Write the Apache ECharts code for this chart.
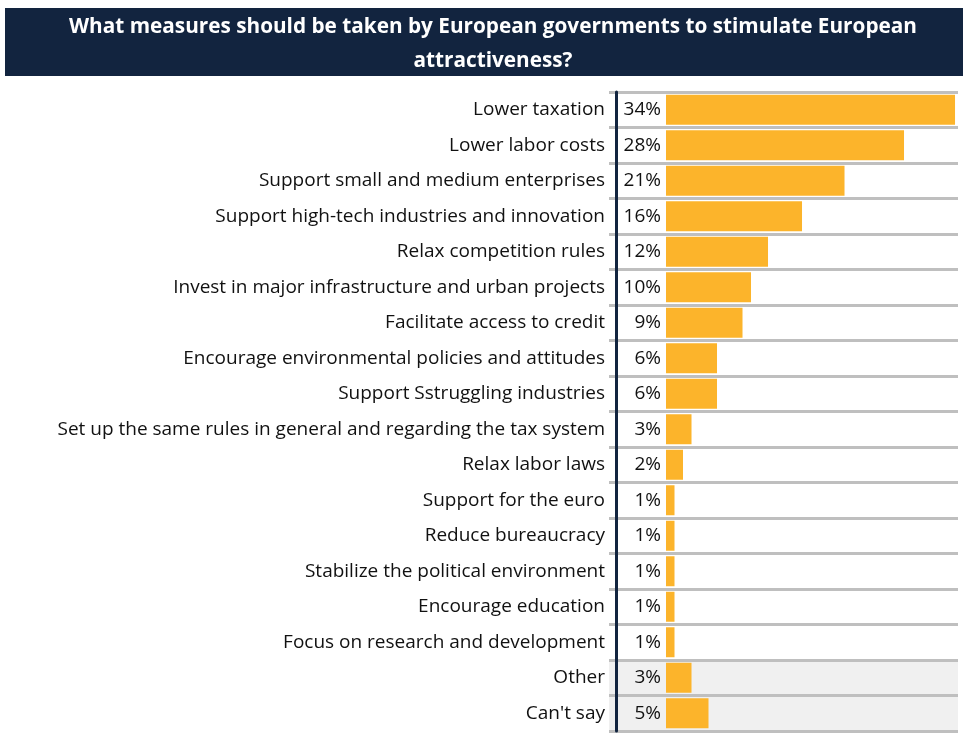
<!DOCTYPE html>
<html>
<head>
<meta charset="utf-8">
<title>European attractiveness measures</title>
<script src="https://cdn.jsdelivr.net/npm/echarts@6/dist/echarts.min.js"></script>
<style>
  html, body { margin: 0; padding: 0; background: #ffffff; }
  #chart { width: 963px; height: 738px; }
</style>
</head>
<body>
<div id="chart"></div>
<script>
// Survey answers, in the order they are listed
const categories = [
  'Lower taxation',
  'Lower labor costs',
  'Support small and medium enterprises',
  'Support high-tech industries and innovation',
  'Relax competition rules',
  'Invest in major infrastructure and urban projects',
  'Facilitate access to credit',
  'Encourage environmental policies and attitudes',
  'Support Sstruggling industries',
  'Set up the same rules in general and regarding the tax system',
  'Relax labor laws',
  'Support for the euro',
  'Reduce bureaucracy',
  'Stabilize the political environment',
  'Encourage education',
  'Focus on research and development',
  'Other',
  "Can't say"
];
// Share of respondents, in percent
const shares = [34, 28, 21, 16, 12, 10, 9, 6, 6, 3, 2, 1, 1, 1, 1, 1, 3, 5];
// Answers that sit on a shaded band
const shadedRows = ['Other', "Can't say"];

const titleText = 'What measures should be taken by European governments to stimulate European\nattractiveness?';

const FONT = '"Open Sans", "DejaVu Sans", sans-serif';
const NAVY = '#12243f';
const BAR = '#fcb42b';

const chart = echarts.init(document.getElementById('chart'), null, { renderer: 'canvas' });

const bandColors = categories.map(c => shadedRows.includes(c) ? '#f0f0f0' : 'rgba(255,255,255,0)');

chart.setOption({
  animation: false,
  backgroundColor: '#ffffff',
  title: {
    text: titleText,
    left: 488,
    top: 5,
    textAlign: 'center',
    textStyle: {
      color: '#ffffff',
      fontFamily: FONT,
      fontWeight: 'bold',
      fontSize: 20.75,
      lineHeight: 34
    }
  },
  graphic: [{
    type: 'rect',
    z: -1,
    shape: { x: 5, y: 8, width: 958, height: 68 },
    style: { fill: NAVY }
  }],
  grid: {
    left: 609,
    right: 5,
    top: 92,
    bottom: 7,
    containLabel: false
  },
  xAxis: {
    type: 'value',
    min: -6.706,
    max: 34.35,
    show: false
  },
  yAxis: [{
    type: 'category',
    inverse: true,
    data: categories,
    axisLine: { show: false },
    axisTick: { show: false },
    axisLabel: {
      margin: 4,
      color: '#111111',
      fontFamily: FONT,
      fontSize: 19,
      padding: [3, 0, 0, 0]
    },
    splitLine: {
      show: true,
      lineStyle: { color: '#bfbfbf', width: 3 }
    },
    splitArea: {
      show: true,
      areaStyle: { color: bandColors }
    }
  }, {
    type: 'category',
    inverse: true,
    position: 'left',
    offset: -7,
    data: categories,
    axisLine: { show: true, lineStyle: { color: NAVY, width: 3 } },
    axisTick: { show: false },
    axisLabel: { show: false },
    splitLine: { show: false }
  }],
  series: [{
    type: 'bar',
    yAxisIndex: 0,
    data: shares,
    barWidth: 30,
    itemStyle: { color: BAR },
    label: {
      show: true,
      position: 'left',
      distance: 5,
      formatter: '{c}%',
      color: '#111111',
      fontFamily: FONT,
      fontSize: 19,
      padding: [3, 0, 0, 0]
    }
  }]
});
</script>
</body>
</html>
